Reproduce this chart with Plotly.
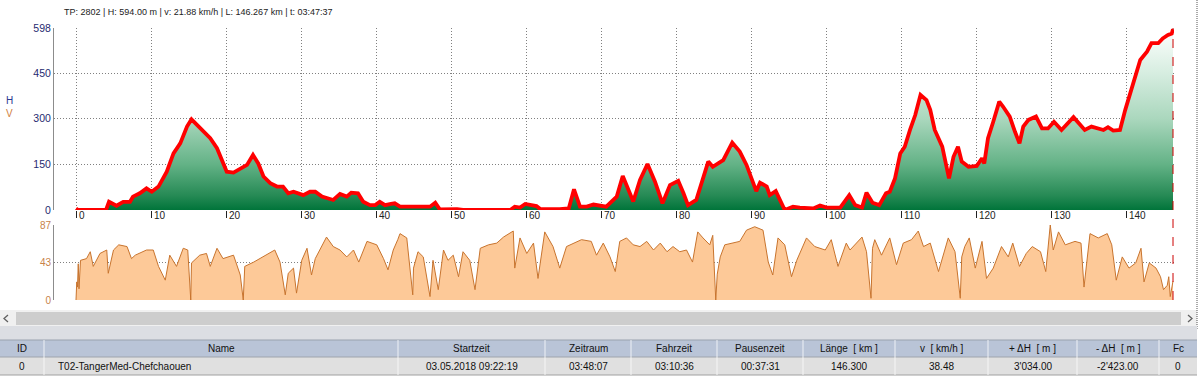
import plotly.graph_objects as go

# ---------------- data ----------------
elev_km = [0.0, 0.3, 4.0, 4.4, 5.4, 6.3, 7.2, 7.6, 8.5, 9.4, 10.1, 11.0, 12.1, 13.0, 13.9, 14.8, 15.4, 16.1, 17.0,
           17.9, 18.8, 19.4, 20.1, 21.0, 21.9, 22.8, 23.6, 24.3, 25.0, 25.9, 26.8, 27.6, 28.3, 29.0, 30.3, 31.2,
           31.9, 32.8, 34.3, 35.2, 36.1, 36.7, 37.6, 38.3, 39.2, 39.9, 40.5, 41.2, 42.0, 42.5, 43.2, 44.5, 47.2,
           47.9, 48.5, 50.8, 51.6, 57.9, 58.5, 59.2, 59.9, 61.4, 61.9, 64.5, 65.7, 66.4, 67.2, 68.1, 69.0, 70.7,
           71.4, 72.1, 72.9, 73.6, 74.3, 75.2, 76.2, 77.2, 78.2, 79.2, 80.3, 81.0, 81.6, 82.7, 84.3, 84.9, 86.3,
           87.5, 88.5, 89.4, 90.7, 91.2, 92.1, 92.5, 93.3, 94.5, 95.6, 96.5, 98.3, 99.2, 100.1, 101.9, 103.1,
           103.9, 104.8, 105.4, 106.2, 107.1, 108.0, 108.5, 109.2, 109.9, 110.5, 111.2, 111.9, 112.6, 113.4,
           113.9, 114.5, 115.5, 116.0, 116.4, 117.0, 117.6, 118.1, 119.0, 120.1, 120.8, 121.1, 121.6, 122.3,
           123.1, 123.6, 124.5, 125.2, 125.8, 126.3, 127.0, 128.0, 128.8, 129.6, 130.4, 131.4, 133.0, 134.5,
           135.4, 137.0, 137.6, 138.3, 139.2, 139.9, 140.5, 141.0, 141.9, 142.8, 143.4, 144.3, 144.9, 145.6,
           146.1, 146.267]
elev_m = [5, 0, 0, 27, 14, 27, 27, 44, 55, 71, 60, 77, 126, 186, 219, 274, 298, 280, 257,
          236, 203, 164, 126, 123, 137, 148, 181, 153, 110, 88, 77, 77, 55, 60, 49, 60,
          60, 44, 33, 53, 44, 57, 55, 27, 16, 16, 27, 16, 20, 22, 11, 11, 11,
          24, 2, 3, 0, 0, 11, 8, 20, 13, 3, 3, 5, 68, 11, 11, 18, 11,
          27, 44, 112, 71, 28, 99, 151, 93, 22, 82, 96, 55, 16, 33, 159, 142, 164,
          221, 192, 148, 62, 90, 77, 49, 62, 0, 11, 8, 5, 15, 8, 8, 49,
          16, 8, 57, 24, 16, 55, 60, 104, 186, 208, 263, 312, 378, 361,
          329, 263, 208, 142, 104, 175, 208, 159, 142, 145, 170, 153, 236, 290,
          356, 340, 307, 257, 219, 274, 296, 307, 268, 268, 290, 263, 305, 263,
          274, 263, 272, 261, 263, 329, 380, 427, 493, 520, 548, 548, 564, 575,
          580, 594]

speed_km = [0.0, 0.1, 0.2, 0.3, 0.4, 0.6, 1.4, 1.9, 2.3, 3.2, 4.1, 4.3, 5.0, 5.7, 6.8, 7.4, 7.9, 9.4, 10.3,
            11.0, 11.9, 12.5, 13.4, 14.3, 14.9, 15.3, 15.4, 16.5, 17.4, 17.9, 18.8, 19.6, 21.0, 21.9, 22.3,
            22.5, 23.7, 24.5, 25.4, 26.5, 27.2, 27.9, 28.3, 29.0, 29.4, 30.1, 30.8, 31.4, 31.9, 32.8, 33.4,
            34.3, 35.2, 36.1, 37.0, 37.7, 38.8, 40.1, 41.0, 41.6, 42.3, 42.9, 43.2, 44.1, 44.9, 45.0, 45.6,
            46.3, 47.2, 47.6, 48.3, 49.0, 49.6, 50.3, 51.0, 51.6, 52.5, 53.2, 53.9, 55.0, 56.1, 57.0, 58.3,
            58.5, 59.2, 60.1, 61.0, 61.6, 62.5, 63.6, 64.5, 65.4, 66.3, 67.4, 68.7, 69.4, 70.3, 71.2, 71.9,
            72.5, 73.4, 74.3, 75.2, 76.1, 77.0, 77.9, 78.8, 79.6, 80.5, 81.4, 82.2, 82.9, 83.6, 84.5, 84.9,
            85.3, 85.5, 85.9, 86.5, 87.4, 88.5, 89.4, 90.5, 91.6, 92.3, 92.9, 93.6, 94.5, 95.4, 96.1, 97.4,
            98.5, 99.9, 100.7, 101.6, 102.7, 103.2, 104.8, 105.4, 106.0, 106.2, 106.5, 107.4, 108.5, 109.4,
            110.3, 111.4, 112.3, 113.0, 113.9, 115.0, 116.3, 117.2, 117.9, 118.1, 118.5, 119.1, 119.9, 120.8,
            121.4, 122.3, 123.4, 124.3, 124.9, 125.8, 126.7, 127.5, 128.6, 129.3, 129.9, 130.3, 131.0, 131.9,
            133.2, 134.0, 134.4, 135.0, 135.2, 136.3, 137.5, 138.1, 138.7, 139.5, 140.4, 141.3, 142.0, 142.4,
            143.1, 144.0, 144.6, 145.0, 145.5, 145.7, 145.9, 146.267]
speed_v = [0, 21, 15, 42, 13, 46, 48, 56, 39, 54, 58, 31, 58, 64, 62, 48, 52, 58, 58,
           39, 23, 52, 39, 60, 58, 0, 43, 52, 54, 39, 60, 48, 52, 29, 0,
           39, 44, 48, 52, 58, 44, 6, 31, 37, 8, 46, 60, 29, 48, 62, 73,
           62, 58, 50, 58, 44, 68, 64, 48, 35, 58, 70, 77, 72, 6, 37, 56,
           50, 4, 46, 12, 58, 46, 52, 27, 56, 46, 12, 60, 64, 66, 73, 80,
           37, 72, 54, 66, 25, 79, 62, 37, 62, 66, 70, 68, 52, 66, 50, 33,
           68, 72, 64, 62, 68, 58, 66, 56, 62, 56, 58, 44, 79, 72, 64, 75,
           0, 30, 50, 64, 66, 68, 81, 85, 81, 44, 29, 72, 64, 27, 46, 72,
           62, 58, 70, 39, 66, 58, 73, 56, 2, 60, 70, 52, 72, 41,
           66, 70, 80, 62, 66, 33, 72, 56, 2, 50, 62, 72, 37, 68,
           25, 37, 62, 50, 66, 39, 54, 62, 56, 33, 87, 58, 79, 64,
           68, 66, 15, 62, 77, 72, 77, 64, 23, 50, 37, 43, 60, 21,
           43, 37, 27, 12, 17, 27, 4, 21.88]

xtick_vals = [0, 10, 20, 30, 40, 50, 60, 70, 80, 90, 100, 110, 120, 130, 140]
h_tick_vals = [0, 150, 300, 450, 598]
v_tick_vals = [0, 43, 87]

info_text = "TP: 2802 | H: 594.00 m | v: 21.88 km/h | L: 146.267 km | t: 03:47:37"

table_headers = ["ID", "Name", "Startzeit", "Zeitraum", "Fahrzeit", "Pausenzeit",
                 "Länge  [ km ]", "v  [ km/h ]", "+ ΔH  [ m ]", "- ΔH  [ m ]", "Fc"]
table_row = ["0", "T02-TangerMed-Chefchaouen", "03.05.2018 09:22:19", "03:48:07", "03:10:36",
             "00:37:31", "146.300", "38.48", "3'034.00", "-2'423.00", "0"]

# ---------------- layout helpers ----------------
W, H = 1200, 378
FONT = "Liberation Sans, Arial, sans-serif"


def px(x):
    return x / W


def py(y):
    return 1 - y / H


X_LEFT, X_RIGHT = 54, 1174
KM0_PX, PX_PER_KM = 76, 7.5
x_range = [(X_LEFT - KM0_PX) / PX_PER_KM, (X_RIGHT - KM0_PX) / PX_PER_KM]

fig = go.Figure()

fig.add_trace(go.Scatter(
    x=elev_km, y=elev_m, mode="lines",
    line=dict(color="#ff0000", width=3.8),
    fill="tozeroy",
    fillgradient=dict(type="vertical", start=0, stop=598,
                      colorscale=[[0, "#00743a"], [0.08, "#268a55"], [0.25, "#63b286"],
                                  [0.5, "#aad7bd"], [0.75, "#d6ede0"], [1, "#ffffff"]]),
    xaxis="x", yaxis="y", hoverinfo="skip", showlegend=False))

fig.add_trace(go.Scatter(
    x=speed_km, y=speed_v, mode="lines",
    line=dict(color="#c8742e", width=1),
    fill="tozeroy", fillcolor="#fdc998",
    xaxis="x2", yaxis="y2", hoverinfo="skip", showlegend=False))

grid = dict(showgrid=True, gridcolor="#808080", griddash="1px,2px", gridwidth=1)

fig.update_layout(
    width=W, height=H,
    margin=dict(l=0, r=0, t=0, b=0, pad=0, autoexpand=False),
    paper_bgcolor="white", plot_bgcolor="white",
    font=dict(family=FONT, size=10, color="#222"),
    hovermode=False,
    xaxis=dict(domain=[px(X_LEFT), px(X_RIGHT)], range=x_range, anchor="y", automargin=False,
               tickvals=xtick_vals, ticks="outside", ticklen=7, tickcolor="#222", tickwidth=1,
               showticklabels=False, zeroline=False, showline=False, **grid),
    yaxis=dict(domain=[py(210), py(28)], range=[0, 598], anchor="x", automargin=False,
               tickvals=h_tick_vals, ticktext=[str(v) for v in h_tick_vals],
               tickfont=dict(color="#1f2a70", size=10.5), ticks="",
               zeroline=False, showline=True, linecolor="#8c8c8c", linewidth=1, **grid),
    xaxis2=dict(domain=[px(X_LEFT), px(X_RIGHT)], range=x_range, anchor="y2", automargin=False,
                showgrid=False, showticklabels=False, ticks="", zeroline=False, showline=False),
    yaxis2=dict(domain=[py(300), py(225)], range=[0, 87], anchor="x2", automargin=False,
                tickvals=v_tick_vals, ticktext=[str(v) for v in v_tick_vals],
                tickfont=dict(color="#c8834a", size=10), ticks="",
                zeroline=False, showline=True, linecolor="#8c8c8c", linewidth=1, **grid),
)

annotations = []
shapes = []

# x tick labels beside the tick marks
for v in xtick_vals:
    annotations.append(dict(x=v, xref="x", y=py(215), yref="paper", text=str(v),
                            xanchor="left", yanchor="middle", xshift=1, showarrow=False,
                            font=dict(size=10, color="#222")))

# top info line
annotations.append(dict(x=px(62), y=py(12), xref="paper", yref="paper", text=info_text,
                        xanchor="left", yanchor="middle", showarrow=False,
                        font=dict(size=9, color="#222")))
# axis letters
annotations.append(dict(x=px(4), y=py(100), xref="paper", yref="paper", text="H",
                        xanchor="left", yanchor="middle", showarrow=False,
                        font=dict(size=10, color="#2b3990")))
annotations.append(dict(x=px(4), y=py(113), xref="paper", yref="paper", text="V",
                        xanchor="left", yanchor="middle", showarrow=False,
                        font=dict(size=10, color="#d08040")))

# end-of-track marker
shapes.append(dict(type="line", xref="x", yref="paper", x0=elev_km[-1], x1=elev_km[-1],
                   y0=py(300), y1=py(28), line=dict(color="#cc0000", width=1, dash="dash")))
# window border dotted
shapes.append(dict(type="line", xref="paper", yref="paper", x0=px(1197), x1=px(1197),
                   y0=py(0), y1=py(330), line=dict(color="#555", width=1, dash="1px,1px")))

# scrollbar
shapes.append(dict(type="rect", xref="paper", yref="paper", x0=0, x1=px(1197), y0=py(326), y1=py(310),
                   fillcolor="#f0f0f0", line=dict(width=0), layer="below"))
shapes.append(dict(type="rect", xref="paper", yref="paper", x0=px(16), x1=px(1181), y0=py(325), y1=py(312),
                   fillcolor="#cdcdcd", line=dict(width=0)))


def chevron(x_tip, x_back, yc, half):
    return (f"M {px(x_back)} {py(yc - half)} L {px(x_tip)} {py(yc)} L {px(x_back)} {py(yc + half)}")


shapes.append(dict(type="path", xref="paper", yref="paper", path=chevron(4, 8, 318.5, 3.5),
                   line=dict(color="#606060", width=1.3)))
shapes.append(dict(type="path", xref="paper", yref="paper", path=chevron(1192, 1188, 318.5, 3.5),
                   line=dict(color="#606060", width=1.3)))

# band below scrollbar
shapes.append(dict(type="rect", xref="paper", yref="paper", x0=0, x1=px(1197), y0=py(340), y1=py(326),
                   fillcolor="#dcdee3", line=dict(width=0)))

# table
col_edges = [0, 44, 398, 545, 631, 717, 803, 895, 988, 1077, 1159, 1197]
HDR_TOP, HDR_BOT, ROW_BOT = 340, 357, 375
shapes.append(dict(type="rect", xref="paper", yref="paper", x0=0, x1=px(1197), y0=py(HDR_BOT), y1=py(HDR_TOP),
                   fillcolor="#b9c4d7", line=dict(width=0)))
shapes.append(dict(type="rect", xref="paper", yref="paper", x0=0, x1=px(1197), y0=py(ROW_BOT), y1=py(HDR_BOT),
                   fillcolor="#e0e0e0", line=dict(width=0)))
shapes.append(dict(type="line", xref="paper", yref="paper", x0=0, x1=px(1197), y0=py(HDR_TOP), y1=py(HDR_TOP),
                   line=dict(color="#9aa2ae", width=1)))
shapes.append(dict(type="line", xref="paper", yref="paper", x0=0, x1=px(1197), y0=py(HDR_BOT), y1=py(HDR_BOT),
                   line=dict(color="#9ea4ac", width=1)))
shapes.append(dict(type="line", xref="paper", yref="paper", x0=0, x1=px(1197), y0=py(ROW_BOT), y1=py(ROW_BOT),
                   line=dict(color="#a0a0a0", width=1)))
for e in col_edges[1:-1]:
    shapes.append(dict(type="line", xref="paper", yref="paper", x0=px(e), x1=px(e),
                       y0=py(HDR_BOT), y1=py(HDR_TOP), line=dict(color="#eef1f6", width=1)))
    shapes.append(dict(type="line", xref="paper", yref="paper", x0=px(e), x1=px(e),
                       y0=py(ROW_BOT), y1=py(HDR_BOT), line=dict(color="#f6f6f6", width=1)))

for i, (h, r) in enumerate(zip(table_headers, table_row)):
    cx = (col_edges[i] + col_edges[i + 1]) / 2
    annotations.append(dict(x=px(cx), y=py((HDR_TOP + HDR_BOT) / 2), xref="paper", yref="paper", text=h,
                            showarrow=False, xanchor="center", yanchor="middle",
                            font=dict(size=10, color="#111")))
    if i == 1:
        annotations.append(dict(x=px(col_edges[i] + 12), y=py((HDR_BOT + ROW_BOT) / 2), xref="paper",
                                yref="paper", text=r, showarrow=False, xanchor="left", yanchor="middle",
                                font=dict(size=10, color="#111")))
    else:
        annotations.append(dict(x=px(cx), y=py((HDR_BOT + ROW_BOT) / 2), xref="paper", yref="paper", text=r,
                                showarrow=False, xanchor="center", yanchor="middle",
                                font=dict(size=10, color="#111")))

fig.update_layout(annotations=annotations, shapes=shapes)

fig.write_html("out.html", config={"displayModeBar": False, "staticPlot": True},
               post_script="document.body.style.margin='0';document.body.style.overflow='hidden';")
